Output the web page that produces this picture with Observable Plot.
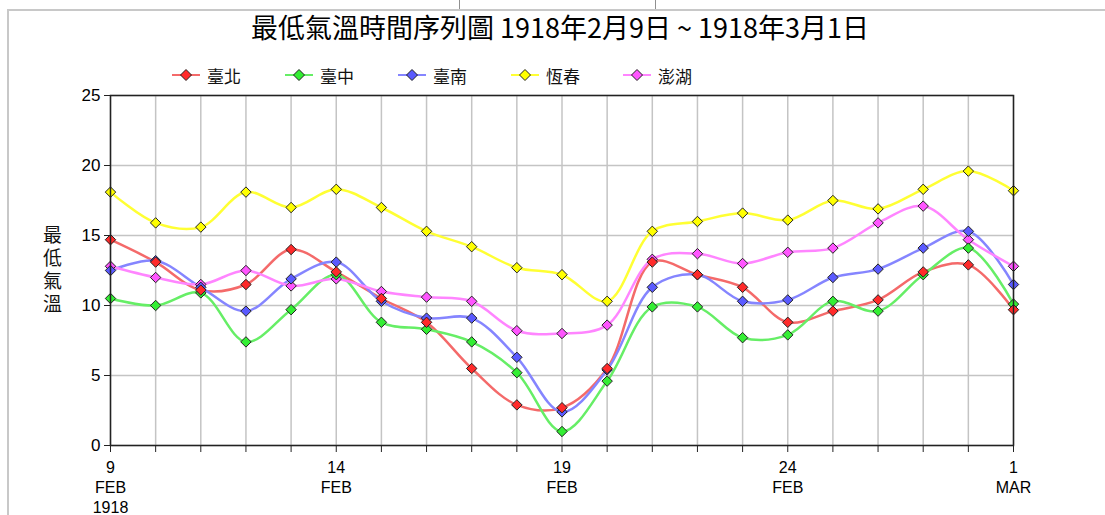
<!DOCTYPE html>
<html><head><meta charset="utf-8">
<script src="https://cdn.jsdelivr.net/npm/d3@7"></script>
<script src="https://cdn.jsdelivr.net/npm/@observablehq/plot@0.6"></script>
<style>
body{margin:0;background:#fff;}
#wrap{position:relative;width:1105px;height:515px;overflow:hidden;font-family:"Liberation Sans","Noto Sans CJK TC",sans-serif;}
#border{position:absolute;left:7px;top:9px;right:-4px;bottom:-4px;border-top:2px solid #c8c8c8;border-left:2px solid #c8c8c8;}
.wtick{position:absolute;top:0;width:1px;height:9px;background:#909090;}
#title{position:absolute;left:0;width:1120px;top:10px;text-align:center;font-size:27px;line-height:34px;font-family:"Liberation Sans Narrow","Noto Sans CJK TC",sans-serif;color:#000;white-space:nowrap;}
#legend{position:absolute;top:62px;left:0;width:1105px;height:26px;}
.item{position:absolute;top:0;height:26px;display:flex;align-items:center;font-size:17px;font-family:"Noto Sans CJK TC",sans-serif;color:#111;}
.item span{margin-left:6px;}
#chart{position:absolute;left:0;top:85px;}
</style></head>
<body>
<div id="wrap">
  <div id="border"></div>
  <div class="wtick" style="left:459px"></div>
  <div class="wtick" style="left:655px"></div>
  <div id="title">最低氣溫時間序列圖 1918年2月9日 ~ 1918年3月1日</div>
  <div id="legend"></div>
  <div id="chart"></div>
</div>
<script>
const dates = ["1918-02-09","1918-02-10","1918-02-11","1918-02-12","1918-02-13","1918-02-14","1918-02-15",
  "1918-02-16","1918-02-17","1918-02-18","1918-02-19","1918-02-20","1918-02-21","1918-02-22",
  "1918-02-23","1918-02-24","1918-02-25","1918-02-26","1918-02-27","1918-02-28","1918-03-01"];
const stations = ["臺北","臺中","臺南","恆春","澎湖"];
const taipei   = [14.7,13.1,11.1,11.5,14.0,12.4,10.5,8.8,5.5,2.9,2.7,5.5,13.1,12.2,11.3,8.8,9.6,10.4,12.4,12.9,9.7];
const taichung = [10.5,10.0,10.9,7.4,9.7,12.2,8.8,8.3,7.4,5.2,1.0,4.6,9.9,9.9,7.7,7.9,10.3,9.6,12.2,14.1,10.1];
const tainan   = [12.5,13.2,11.3,9.6,11.9,13.1,10.3,9.1,9.1,6.3,2.4,5.4,11.3,12.2,10.3,10.4,12.0,12.6,14.1,15.3,11.5];
const hengchun = [18.1,15.9,15.6,18.1,17.0,18.3,17.0,15.3,14.2,12.7,12.2,10.3,15.3,16.0,16.6,16.1,17.5,16.9,18.3,19.6,18.2];
const penghu   = [12.8,12.0,11.5,12.5,11.4,11.9,11.0,10.6,10.3,8.2,8.0,8.6,13.3,13.7,13.0,13.8,14.1,15.9,17.1,14.7,12.8];
const lineColors   = ["#f46a6a","#66ee66","#8585ff","#ffff33","#ff85ff"];
const markerColors = ["#ff2a2a","#33ee33","#5a5aff","#ffff00","#ff55ff"];
const yTicks = [0,5,10,15,20,25];
const xLabelDates = ["1918-02-09","1918-02-14","1918-02-19","1918-02-24","1918-03-01"];
const xLabelTexts = ["9\nFEB\n1918","14\nFEB","19\nFEB","24\nFEB","1\nMAR"];
const yLabel = "最低氣溫";

const seriesValues = [taipei, taichung, tainan, hengchun, penghu];
const rows = [];
stations.forEach((s, k) => {
  seriesValues[k].forEach((v, i) => {
    rows.push({station: s, k, date: new Date(dates[i]), value: v, line: lineColors[k], marker: markerColors[k]});
  });
});
const dotRows = rows.slice().sort((a, b) => b.k - a.k);
const labelMap = new Map(xLabelDates.map((d, i) => [+new Date(d), xLabelTexts[i]]));
const tickDates = dates.map(d => new Date(d));

// Legend
const legend = document.getElementById("legend");
const legendX = [186, 299, 412, 525, 637];
stations.forEach((s, k) => {
  const item = document.createElement("div");
  item.className = "item";
  item.style.left = (legendX[k] - 15) + "px";
  item.innerHTML = `<svg width="30" height="26"><line x1="1" x2="29" y1="13" y2="13" stroke="${lineColors[k]}" stroke-width="2"/>` +
    `<path d="M15,7.5L20.5,13L15,18.5L9.5,13Z" fill="${markerColors[k]}" stroke="#222" stroke-width="1"/></svg><span>${s}</span>`;
  legend.appendChild(item);
});

const chart = Plot.plot({
  width: 1105,
  height: 430,
  marginLeft: 110,
  marginRight: 92,
  marginTop: 10,
  marginBottom: 70,
  style: {fontFamily: '"Liberation Sans","Noto Sans CJK TC",sans-serif', background: "transparent", color: "#000"},
  x: {type: "utc", domain: [new Date(dates[0]), new Date(dates[dates.length - 1])]},
  y: {domain: [0, 25]},
  color: {type: "identity"},
  marks: [
    Plot.gridX(tickDates, {stroke: "#c4c4c4", strokeOpacity: 1, strokeWidth: 1.5}),
    Plot.gridY(yTicks, {stroke: "#c4c4c4", strokeOpacity: 1, strokeWidth: 1.5}),
    Plot.line(rows, {x: "date", y: "value", z: "station", stroke: "line", strokeWidth: 2.5, curve: "catmull-rom"}),
    Plot.dot(dotRows, {x: "date", y: "value", fill: "marker", stroke: "#222", strokeWidth: 1, symbol: "diamond2", r: 4.7}),
    Plot.frame({stroke: "#222", strokeWidth: 1.5}),
    Plot.axisY({ticks: yTicks, tickSize: 6, tickPadding: 4, fontSize: 17, label: null, stroke: "#222"}),
    Plot.axisX({ticks: tickDates, tickSize: 7, tickPadding: 6, fontSize: 16, lineHeight: 1.25, label: null, stroke: "#222",
      tickFormat: d => labelMap.get(+d) || ""}),
    Plot.text([yLabel], {text: d => d, frameAnchor: "left", dx: -58, dy: -4, fontSize: 19,
      fontFamily: '"Noto Sans CJK TC",sans-serif', fill: "#111"})
  ]
});
chart.querySelectorAll('g[aria-label="text"] text').forEach(t => {
  if (t.textContent === yLabel) {
    t.style.writingMode = "vertical-rl";
    t.style.textOrientation = "upright";
    t.style.letterSpacing = "4px";
    t.removeAttribute("dy");
    const tr = t.getAttribute("transform") || "";
    t.setAttribute("transform", (tr + " translate(0,-47)").trim());
  }
});
document.getElementById("chart").appendChild(chart);
</script>
</body></html>
